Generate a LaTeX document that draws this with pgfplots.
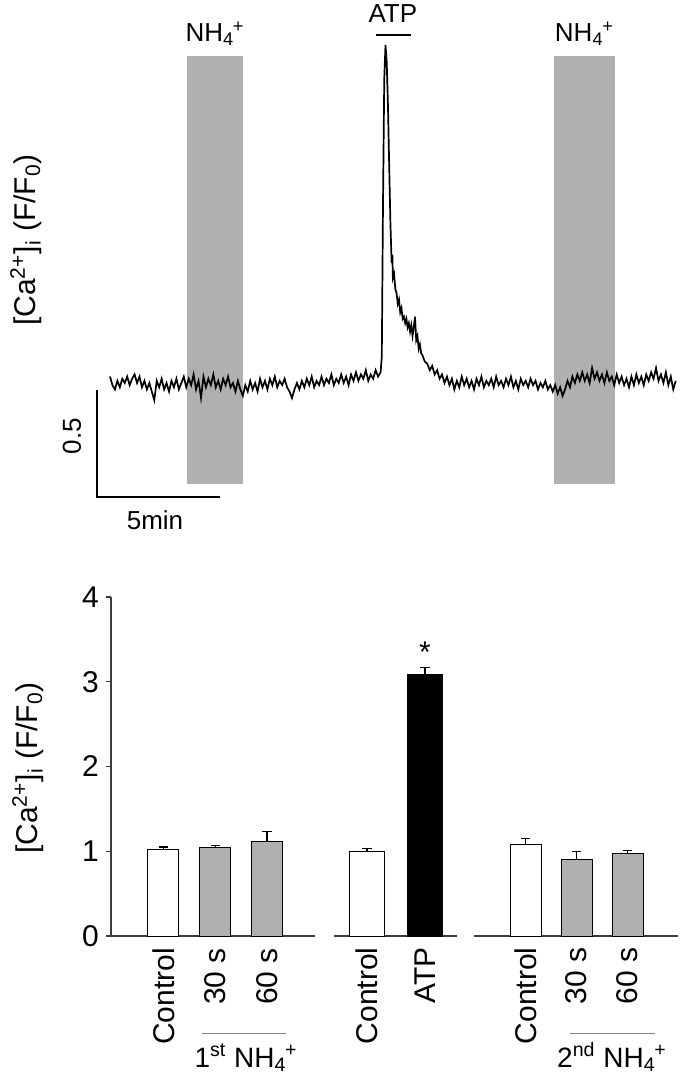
\documentclass[border=0pt]{standalone}
\usepackage{pgfplots}
\pgfplotsset{compat=1.18}
\usepackage{fontspec}
\setmainfont{Liberation Sans}

\definecolor{band}{RGB}{176,176,176}
\definecolor{axisgray}{RGB}{60,60,60}
\newcommand{\nh}{NH\textsubscript{4}\kern-0.05em\textsuperscript{+}}
\newcommand{\cai}{[Ca\textsuperscript{2+}]\textsubscript{i} (F/F\textsubscript{0})}

\begin{document}
\begin{tikzpicture}
\useasboundingbox (0,0) rectangle (340pt,-540.5pt);

% ---- top: calcium trace ----
\begin{axis}[
    at={(47.62pt,-249.28pt)}, anchor=south west,
    scale only axis, width=292.7pt, height=231.1pt,
    xmin=-0.6, xmax=23.2, ymin=0.46, ymax=2.62,
    axis lines=none, clip=false,
]
\addplot[fill=band, draw=none] coordinates {(3.13,0.528) (5.41,0.528) (5.41,2.528) (3.13,2.528)};
\addplot[fill=band, draw=none] coordinates {(18.05,0.528) (20.53,0.528) (20.53,2.528) (18.05,2.528)};
\addplot[black, line width=0.85pt, no markers] coordinates {
(0.0,1.03) (0.1,0.99) (0.2,0.97) (0.3,1.01) (0.4,0.98) (0.5,1.02) (0.6,1.00) (0.7,1.03) (0.8,0.99) (0.9,1.02)
(1.0,1.04) (1.1,1.00) (1.2,1.03) (1.3,0.98) (1.4,1.01) (1.5,0.97) (1.6,1.00) (1.7,0.96) (1.8,0.92) (1.9,1.01)
(2.0,0.98) (2.1,1.02) (2.2,0.97) (2.3,1.00) (2.4,0.96) (2.5,1.01) (2.6,0.98) (2.7,1.02) (2.8,0.97) (2.9,1.00)
(3.0,1.03) (3.1,0.98) (3.2,1.02) (3.3,0.99) (3.4,1.04) (3.5,0.97) (3.6,1.01) (3.7,0.93) (3.8,1.03) (3.9,0.98)
(4.0,1.02) (4.1,0.99) (4.2,1.04) (4.3,0.98) (4.4,1.01) (4.5,0.97) (4.6,1.02) (4.7,0.99) (4.8,1.03) (4.9,0.98)
(5.0,1.00) (5.1,0.96) (5.2,1.01) (5.3,0.97) (5.4,0.94) (5.5,0.99) (5.6,0.96) (5.7,1.01) (5.8,0.97) (5.9,1.00)
(6.0,0.96) (6.1,1.02) (6.2,0.98) (6.3,1.01) (6.4,0.97) (6.5,1.02) (6.6,0.99) (6.7,1.03) (6.8,0.98) (6.9,1.01)
(7.0,0.99) (7.1,1.02) (7.2,0.98) (7.3,0.96) (7.4,0.93) (7.5,0.97) (7.6,1.00) (7.7,0.97) (7.8,1.01) (7.9,0.98)
(8.0,1.02) (8.1,0.99) (8.2,1.03) (8.3,0.98) (8.4,1.01) (8.5,0.99) (8.6,1.03) (8.7,0.99) (8.8,1.02) (8.9,1.00)
(9.0,1.04) (9.1,0.99) (9.2,1.02) (9.3,1.00) (9.4,1.04) (9.5,1.00) (9.6,1.03) (9.7,0.99) (9.8,1.04) (9.9,1.01)
(10.0,1.05) (10.1,1.01) (10.2,1.04) (10.3,1.02) (10.4,1.06) (10.5,1.01) (10.6,1.04) (10.7,1.02) (10.8,1.06) (10.9,1.03)
(11.0,1.05) (11.05,1.12) (11.10,1.85) (11.15,2.42) (11.20,2.58) (11.25,2.50) (11.30,2.30) (11.35,2.02) (11.40,1.75)
(11.45,1.56) (11.48,1.60) (11.50,1.49) (11.55,1.51) (11.60,1.44) (11.65,1.42) (11.70,1.37) (11.75,1.39) (11.80,1.33)
(11.85,1.35) (11.90,1.30) (11.95,1.31) (12.00,1.28) (12.05,1.30) (12.10,1.26) (12.15,1.28) (12.20,1.24) (12.25,1.27)
(12.30,1.22) (12.35,1.26) (12.40,1.31) (12.45,1.20) (12.50,1.22) (12.55,1.16) (12.60,1.18) (12.65,1.14) (12.70,1.13)
(12.80,1.10) (12.90,1.09) (13.00,1.06) (13.10,1.08) (13.20,1.04) (13.30,1.06) (13.40,1.02)
(13.5,1.04) (13.6,1.00) (13.7,1.03) (13.8,0.99) (13.9,1.02) (14.0,0.97) (14.1,1.01) (14.2,0.98) (14.3,1.03) (14.4,0.99)
(14.5,1.02) (14.6,0.98) (14.7,1.01) (14.8,0.97) (14.9,1.02) (15.0,0.99) (15.1,1.03) (15.2,0.98) (15.3,1.01) (15.4,0.99)
(15.5,1.02) (15.6,0.98) (15.7,1.03) (15.8,0.99) (15.9,1.01) (16.0,0.98) (16.1,1.02) (16.2,0.99) (16.3,1.03) (16.4,0.98)
(16.5,1.01) (16.6,0.97) (16.7,1.02) (16.8,0.99) (16.9,1.01) (17.0,0.98) (17.1,1.02) (17.2,0.99) (17.3,1.01) (17.4,0.97)
(17.5,1.00) (17.6,0.98) (17.7,1.01) (17.8,0.97) (17.9,0.99) (18.0,0.96) (18.1,0.99) (18.2,0.95) (18.3,0.98) (18.4,0.94)
(18.5,0.97) (18.6,1.01) (18.7,0.98) (18.8,1.03) (18.9,1.00) (19.0,1.04) (19.1,1.01) (19.2,1.05) (19.3,1.01) (19.4,1.04)
(19.5,1.00) (19.6,1.07) (19.7,1.02) (19.8,1.05) (19.9,1.01) (20.0,1.04) (20.1,1.00) (20.2,1.05) (20.3,1.01) (20.4,1.03)
(20.5,0.99) (20.6,1.04) (20.7,1.00) (20.8,1.03) (20.9,0.99) (21.0,1.02) (21.1,0.98) (21.2,1.03) (21.3,0.99) (21.4,1.04)
(21.5,1.00) (21.6,1.03) (21.7,0.99) (21.8,1.04) (21.9,1.01) (22.0,1.05) (22.1,1.02) (22.2,1.07) (22.3,1.01) (22.4,1.04)
(22.5,1.00) (22.6,1.05) (22.7,0.99) (22.8,1.03) (22.9,0.97) (23.0,1.01)
};
% scale bars
\draw[line width=0.7pt] (-0.53,0.967) -- (-0.53,0.467) -- (4.47,0.467);
\node[rotate=90, font=\fontsize{13}{13}\selectfont] at (-1.545,0.752) {0.5};
\node[font=\fontsize{13}{13}\selectfont] at (1.83,0.36) {5min};
% labels
\node[anchor=base, font=\fontsize{13}{13}\selectfont] at (4.27,2.598) {\nh};
\node[anchor=base, font=\fontsize{13}{13}\selectfont] at (19.29,2.598) {\nh};
\node[anchor=base, font=\fontsize{13}{13}\selectfont] at (11.5,2.685) {ATP};
\draw[line width=0.9pt] (10.81,2.626) -- (12.24,2.626);
\end{axis}
\node[rotate=90, font=\fontsize{15}{15}\selectfont] at (13pt,-120pt) {\cai};

% ---- bottom: bar chart ----
\pgfplotsset{
  barpanel/.style={
    anchor=south west, scale only axis, height=169.5pt,
    ymin=0, ymax=4, clip=false,
    xtick style={draw=none},
    xticklabel style={rotate=90, anchor=east, font=\fontsize{15}{15}\selectfont},
    /pgf/number format/assume math mode=true,
  },
  plainlines/.style={axis line style={-, line width=0.6pt, axisgray}},
  errs/.style={error bars/.cd, y dir=plus, y explicit,
    error bar style={line width=0.6pt, black},
    error mark options={line width=0.6pt, black, mark size=2.3pt, rotate=90}},
}
\begin{axis}[barpanel,
    at={(55.5pt,-468pt)}, width=102pt,
    xmin=-0.015, xmax=3.93,
    axis x line=bottom, axis y line=left, plainlines,
    ytick={0,1,2,3,4}, tick align=outside, major tick length=2.5pt,
    ytick style={line width=0.6pt, axisgray},
    yticklabel style={font=\fontsize{15}{15}\selectfont},
    xtick={1,2,3}, xticklabels={Control,30 s,60 s},
]
\addplot[ybar, bar width=15.5pt, bar shift=0pt, fill=white, draw=black, line width=0.5pt, errs]
  coordinates {(1,1.02) +- (0,0.03)};
\addplot[ybar, bar width=15.5pt, bar shift=0pt, fill=band, draw=black, line width=0.5pt, errs]
  coordinates {(2,1.04) +- (0,0.03) (3,1.11) +- (0,0.12)};
\end{axis}

\begin{axis}[barpanel,
    at={(167pt,-468pt)}, width=61.5pt,
    xmin=0.431, xmax=2.552,
    axis x line=bottom, axis y line=none, plainlines, ytick=\empty,
    xtick={1,2}, xticklabels={Control,ATP},
]
\addplot[ybar, bar width=17.5pt, bar shift=0pt, fill=white, draw=black, line width=0.5pt, errs]
  coordinates {(1,1.00) +- (0,0.03)};
\addplot[ybar, bar width=17.5pt, bar shift=0pt, fill=black, draw=black, line width=0.5pt, errs]
  coordinates {(2,3.09) +- (0,0.08)};
\node[anchor=base, font=\fontsize{15}{15}\selectfont] at (2,3.23) {*};
\end{axis}

\begin{axis}[barpanel,
    at={(237pt,-468pt)}, width=102pt,
    xmin=-0.01, xmax=3.99,
    axis x line=bottom, axis y line=none, plainlines, ytick=\empty,
    xtick={1,2,3}, xticklabels={Control,30 s,60 s},
]
\addplot[ybar, bar width=15.5pt, bar shift=0pt, fill=white, draw=black, line width=0.5pt, errs]
  coordinates {(1,1.08) +- (0,0.07)};
\addplot[ybar, bar width=15.5pt, bar shift=0pt, fill=band, draw=black, line width=0.5pt, errs]
  coordinates {(2,0.90) +- (0,0.10) (3,0.97) +- (0,0.04)};
\end{axis}

\node[rotate=90, font=\fontsize{15}{15}\selectfont] at (14pt,-384pt) {\cai};
% group labels
\draw[line width=0.5pt, gray] (101pt,-516.5pt) -- (143pt,-516.5pt);
\draw[line width=0.5pt, gray] (285pt,-516.5pt) -- (327.5pt,-516.5pt);
\node[anchor=base, font=\fontsize{14}{14}\selectfont] at (123pt,-533.5pt) {1\textsuperscript{st} \nh};
\node[anchor=base, font=\fontsize{14}{14}\selectfont] at (306pt,-533.5pt) {2\textsuperscript{nd} \nh};
\end{tikzpicture}
\end{document}
